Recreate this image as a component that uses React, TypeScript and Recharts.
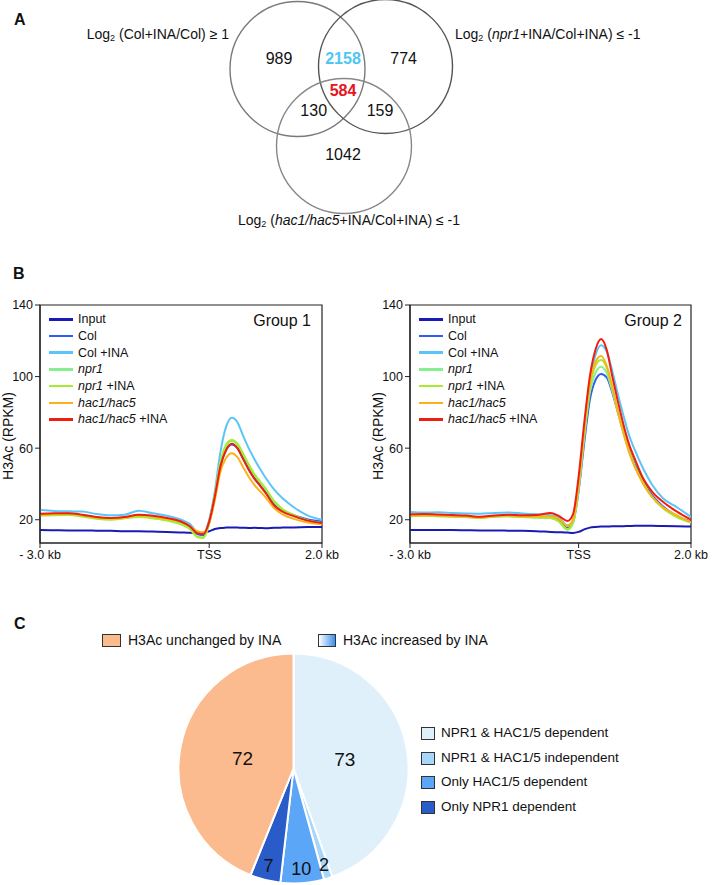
import React from 'react';
import {
  LineChart,
  Line,
  XAxis,
  YAxis,
  ReferenceArea,
  ScatterChart,
  Scatter,
  PieChart,
  Pie,
  Cell,
} from 'recharts';

// ---------- Panel A: Venn counts ----------
const vennRegions = ['Col+INA only', 'Col+INA & npr1', 'npr1 only', 'all three', 'Col+INA & hac', 'npr1 & hac', 'hac only'];
const vennCounts = [989, 2158, 774, 584, 130, 159, 1042];

// ---------- Panel B: H3Ac profiles (RPKM) ----------
const positionsKb = [-3, -2.75, -2.5, -2.25, -2, -1.75, -1.5, -1.25, -1, -0.75, -0.5, -0.35, -0.2, -0.1, 0, 0.1, 0.2, 0.3, 0.4, 0.5, 0.6, 0.7, 0.8, 0.9, 1.0, 1.15, 1.3, 1.5, 1.75, 2.0];
const seriesNames = ['Input', 'Col', 'Col +INA', 'npr1', 'npr1 +INA', 'hac1/hac5', 'hac1/hac5 +INA'];

const g1Input = [14.2, 14.1, 14.0, 14.0, 13.9, 13.8, 13.6, 13.6, 13.4, 13.2, 12.9, 12.7, 12.6, 12.9, 13.6, 14.8, 15.4, 15.6, 15.7, 15.6, 15.5, 15.4, 15.5, 15.4, 15.3, 15.5, 15.6, 15.7, 15.9, 16.0];
const g1Col = [23.0, 23.2, 23.3, 22.6, 21.3, 20.6, 21.2, 22.3, 21.6, 20.3, 18.2, 15.8, 11.8, 11.3, 18.5, 33, 50, 59, 62, 60, 54.5, 48.5, 43.5, 39.5, 35.5, 29, 25.5, 22.5, 20.2, 19.0];
const g1ColIna = [25.6, 24.9, 24.7, 24.6, 23.2, 22.5, 22.8, 25.0, 23.6, 22.2, 20.0, 17.8, 13.0, 12.5, 20, 36, 58, 72, 77, 74.5, 67, 60, 54, 48.5, 43.5, 37, 32, 27, 22.3, 20.0];
const g1Npr1 = [22.5, 22.6, 22.8, 22.0, 20.8, 20.3, 21.0, 21.8, 21.0, 19.8, 17.8, 15.2, 10.5, 10.2, 18, 34, 52, 61, 64, 62, 56.5, 50.5, 45, 41, 37, 30, 25.5, 22.2, 19.5, 18.2];
const g1Npr1Ina = [22.3, 22.5, 22.6, 21.8, 20.5, 20.0, 20.8, 21.5, 20.8, 19.5, 17.5, 15.0, 10.2, 9.8, 18, 34, 52, 62, 64.5, 62.5, 57, 51, 45.5, 41.5, 37.5, 30.5, 26, 22.5, 19.6, 18.0];
const g1Hac = [22.8, 23.2, 23.3, 22.5, 21.2, 20.8, 21.3, 22.5, 21.8, 20.5, 18.8, 16.5, 13.5, 13.0, 18, 31, 47, 54.5, 57.2, 55, 49.5, 44, 39.5, 36, 32.5, 26.5, 23, 20.5, 18.5, 17.5];
const g1HacIna = [23.3, 23.6, 23.6, 22.8, 21.5, 21.0, 21.5, 22.8, 22.2, 21.0, 19.0, 16.5, 12.3, 12.0, 19, 33, 50, 59, 62.5, 60, 54, 48, 43, 39, 35, 28, 24.5, 22, 19.5, 18.2];

const g2Input = [14.3, 14.3, 14.2, 14.2, 14.1, 14.0, 14.0, 13.9, 13.8, 13.6, 13.2, 13.0, 12.8, 12.6, 13.2, 14.6, 15.6, 16.0, 16.2, 16.2, 16.3, 16.3, 16.4, 16.5, 16.6, 16.6, 16.6, 16.5, 16.4, 16.2];
const g2Col = [22.2, 22.4, 22.2, 22.0, 21.7, 21.2, 22.0, 22.2, 21.7, 21.5, 21.3, 19.5, 15.5, 18.5, 36, 63, 87, 98, 101.5, 99.5, 91, 80, 69, 59, 51, 41.5, 34, 27.5, 22, 19];
const g2ColIna = [24.3, 24.0, 24.2, 23.8, 23.5, 23.3, 23.8, 24.0, 23.5, 23.0, 22.5, 21.0, 16.8, 19.5, 40, 70, 97, 112, 117.5, 114, 103, 90, 78, 67, 59, 48.5, 40, 32, 27, 21.5];
const g2Npr1 = [22.0, 22.2, 22.0, 21.8, 21.5, 21.0, 21.8, 22.0, 21.5, 21.3, 21.0, 19.0, 14.4, 18, 37, 66, 91, 102, 105.5, 102, 92, 80, 68.5, 58, 50, 40.5, 33, 26.5, 21.5, 18.5];
const g2Npr1Ina = [22.0, 22.2, 22.0, 21.8, 21.5, 21.0, 21.8, 22.0, 21.5, 21.3, 21.0, 19.0, 14.8, 18.5, 38, 68, 94, 106, 109.3, 105, 94, 81, 69, 58.5, 50, 40.5, 33, 26.5, 21.5, 18.5];
const g2Hac = [22.3, 22.5, 22.3, 22.0, 21.8, 21.3, 22.0, 22.3, 21.8, 21.8, 22.0, 20.5, 16.5, 20, 40, 70, 96, 108, 111.5, 106, 94, 80, 68, 57.5, 49.5, 40, 33, 27, 22.5, 18.5];
const g2HacIna = [23.0, 23.2, 22.9, 22.6, 22.3, 21.6, 22.4, 22.8, 22.5, 22.6, 23.8, 22.0, 19.3, 23, 44, 74, 100, 115, 121, 115, 100, 86, 73, 62, 54, 43, 36, 30, 24.5, 20];

const yTicks = [20, 60, 100, 140];
const xTicks = [-3, 0, 2];
const xTickLabels = ['- 3.0 kb', 'TSS', '2.0 kb'];

// ---------- Panel C: pie ----------
const pieNames = ['NPR1 & HAC1/5 dependent', 'NPR1 & HAC1/5 independent', 'Only HAC1/5 dependent', 'Only NPR1 dependent', 'H3Ac unchanged by INA'];
const pieValues = [73, 2, 10, 7, 72];

// styles
const seriesColors = ['#1a1ab4', '#2f5cf2', '#5cc5f7', '#86f08e', '#a5ec30', '#fbb21a', '#f01e10'];
const pieColors = ['#dff0fb', '#a7d6fb', '#5ba6f7', '#2a5cc9', '#fcbb8f'];
const vennCircles = [
  { x: 297.5, y: 69, r: 67.5, stroke: '#7a7a7a' },
  { x: 385.5, y: 66.5, r: 67, stroke: '#555' },
  { x: 344, y: 146, r: 67.5, stroke: '#888' },
];
const vennTextPos = [
  { x: 279, y: 58 }, { x: 343, y: 58 }, { x: 403.6, y: 58 }, { x: 343, y: 90.7 },
  { x: 313.7, y: 110 }, { x: 380, y: 110 }, { x: 343, y: 154 },
];
const vennHighlight: Record<number, string> = { 2158: '#4fc6f2', 584: '#e8141c' };

const FONT = '"Liberation Sans", Arial, Helvetica, sans-serif';

const buildRows = (cols: number[][]) =>
  positionsKb.map((kb, i) => {
    const row: any = { kb };
    seriesNames.forEach((n, j) => (row[n] = cols[j][i]));
    return row;
  });

const group1 = buildRows([g1Input, g1Col, g1ColIna, g1Npr1, g1Npr1Ina, g1Hac, g1HacIna]);
const group2 = buildRows([g2Input, g2Col, g2ColIna, g2Npr1, g2Npr1Ina, g2Hac, g2HacIna]);

const seriesLabel = (n: string) => {
  if (n.startsWith('npr1') || n.startsWith('hac1')) {
    const [geno, rest] = n.split(' +');
    return (
      <>
        <i>{geno}</i>
        {rest ? ` +${rest}` : ''}
      </>
    );
  }
  return n;
};

const renderYTitle = (props: any) => {
  const vb = props.viewBox || { x: 0, y: 0, width: 0, height: 0 };
  const x = vb.x - 2;
  const y = vb.y + vb.height / 2 + 12;
  return (
    <text x={x} y={y} transform={`rotate(-90, ${x}, ${y})`} textAnchor="middle" dominantBaseline="central" fontSize={14} fill="#111">
      H3Ac (RPKM)
    </text>
  );
};

const ProfileChart = ({ data, left, title }: { data: any[]; left: number; title: string }) => (
  <div style={{ position: 'absolute', left, top: 290 }}>
    <LineChart width={left === 0 ? 357 : 344} height={288} data={data} margin={{ top: 15, right: left === 0 ? 35 : 23, bottom: 5, left: 10 }}>
      <XAxis
        dataKey="kb"
        type="number"
        domain={[-3, 2]}
        ticks={xTicks}
        tickFormatter={(v: number) => xTickLabels[xTicks.indexOf(v)]}
        height={30}
        tickSize={5}
        axisLine={{ stroke: '#222', strokeWidth: 1.2 }}
        tickLine={{ stroke: '#222' }}
        tick={{ fontSize: 12.5, fill: '#111' }}
        allowDataOverflow
      />
      <YAxis
        type="number"
        domain={[7, 140]}
        ticks={yTicks}
        width={30}
        tickSize={5}
        axisLine={{ stroke: '#222', strokeWidth: 1.2 }}
        tickLine={{ stroke: '#222' }}
        tick={{ fontSize: 12.5, fill: '#111' }}
        label={renderYTitle}
        allowDataOverflow
      />
      <ReferenceArea x1={-3} x2={2} y1={7} y2={140} fill="none" stroke="#222" strokeWidth={1.2} />
      {seriesNames.map((n, i) => (
        <Line
          key={n}
          dataKey={n}
          type="monotone"
          stroke={seriesColors[i]}
          strokeWidth={2}
          dot={false}
          isAnimationActive={false}
        />
      ))}
    </LineChart>
    <div style={{ position: 'absolute', left: 49, top: 21 }}>
      {seriesNames.map((n, i) => (
        <div key={n} style={{ display: 'flex', alignItems: 'center', height: 16.7 }}>
          <div style={{ width: 24, height: 2.5, background: seriesColors[i] }} />
          <span style={{ marginLeft: 5, fontSize: 12.5, whiteSpace: 'nowrap' }}>{seriesLabel(n)}</span>
        </div>
      ))}
    </div>
    <div style={{ position: 'absolute', right: left === 0 ? 46 : 32, top: 22, fontSize: 16, lineHeight: '18px' }}>{title}</div>
  </div>
);

const CircleShape = (props: any) => {
  const { cx, cy, payload } = props;
  return <circle cx={cx} cy={cy} r={payload.r} fill="none" stroke={payload.stroke} strokeWidth={1.4} />;
};

const CountShape = (props: any) => {
  const { cx, cy, payload } = props;
  const color = vennHighlight[payload.value];
  return (
    <text x={cx} y={cy} textAnchor="middle" dominantBaseline="central" fontSize={16} fontWeight={color ? 700 : 400} fill={color || '#111'}>
      {payload.value}
    </text>
  );
};

const vennCountData = vennCounts.map((v, i) => ({ ...vennTextPos[i], value: v, region: vennRegions[i] }));

const renderPieLabel = (props: any) => {
  const { cx, cy, midAngle, value } = props;
  const RAD = Math.PI / 180;
  const r = value > 50 ? 52 : 101;
  const x = cx + r * Math.cos(-midAngle * RAD);
  const y = cy + r * Math.sin(-midAngle * RAD);
  return (
    <text x={x} y={y} textAnchor="middle" dominantBaseline="central" fontSize={value > 50 ? 19 : 18} fill="#111">
      {value}
    </text>
  );
};

const Log2 = ({ children }: { children: React.ReactNode }) => (
  <span>
    Log<span style={{ fontSize: 9, position: 'relative', top: 2 }}>2</span> {children}
  </span>
);

const panelLetter = { position: 'absolute' as const, fontSize: 16, fontWeight: 700, lineHeight: '18px' };

export default function App() {
  return (
    <div style={{ position: 'absolute', left: 0, top: 0, width: 714, height: 885, background: '#fff', fontFamily: FONT, color: '#111', overflow: 'hidden' }}>
      <div style={{ ...panelLetter, left: 14, top: 11 }}>A</div>
      <div style={{ ...panelLetter, left: 13, top: 265 }}>B</div>
      <div style={{ ...panelLetter, left: 14, top: 615 }}>C</div>

      {/* Panel A */}
      <div style={{ position: 'absolute', left: 0, top: 0 }}>
        <ScatterChart width={714} height={240} margin={{ top: 0, right: 0, bottom: 0, left: 0 }}>
          <XAxis type="number" dataKey="x" domain={[0, 714]} hide allowDataOverflow />
          <YAxis type="number" dataKey="y" domain={[0, 240]} reversed hide allowDataOverflow />
          <Scatter data={vennCircles} shape={CircleShape} isAnimationActive={false} />
          <Scatter data={vennCountData} shape={CountShape} isAnimationActive={false} />
        </ScatterChart>
      </div>
      <div style={{ position: 'absolute', right: 714 - 229, top: 25, fontSize: 14, lineHeight: '18px', whiteSpace: 'nowrap' }}>
        <Log2>(Col+INA/Col) ≥ 1</Log2>
      </div>
      <div style={{ position: 'absolute', left: 455, top: 25, fontSize: 14, lineHeight: '18px', whiteSpace: 'nowrap' }}>
        <Log2>
          (<i>npr1</i>+INA/Col+INA) ≤ -1
        </Log2>
      </div>
      <div style={{ position: 'absolute', left: 238, top: 211, fontSize: 14, lineHeight: '18px', whiteSpace: 'nowrap' }}>
        <Log2>
          (<i>hac1/hac5</i>+INA/Col+INA) ≤ -1
        </Log2>
      </div>

      {/* Panel B */}
      <ProfileChart data={group1} left={0} title="Group 1" />
      <ProfileChart data={group2} left={370} title="Group 2" />

      {/* Panel C */}
      <div style={{ position: 'absolute', left: 0, top: 600 }}>
        <PieChart width={714} height={285} margin={{ top: 0, right: 0, bottom: 0, left: 0 }}>
          <Pie
            data={pieValues.map((v, i) => ({ name: pieNames[i], value: v }))}
            dataKey="value"
            cx={293.5}
            cy={168.5}
            outerRadius={115}
            startAngle={90}
            endAngle={-270}
            stroke="#fff"
            strokeWidth={2}
            label={renderPieLabel}
            labelLine={false}
            isAnimationActive={false}
          >
            {pieValues.map((_, i) => (
              <Cell key={i} fill={pieColors[i]} />
            ))}
          </Pie>
        </PieChart>
      </div>
      <div style={{ position: 'absolute', left: 102, top: 634, width: 17, height: 11, background: pieColors[4], border: '1.2px solid #333' }} />
      <div style={{ position: 'absolute', left: 128, top: 631, fontSize: 14, lineHeight: '18px', whiteSpace: 'nowrap' }}>{pieNames[4]}</div>
      <div style={{ position: 'absolute', left: 318, top: 634, width: 16, height: 11, background: 'linear-gradient(to right, #ffffff, #3d8ff0)', border: '1.2px solid #333' }} />
      <div style={{ position: 'absolute', left: 343, top: 631, fontSize: 14, lineHeight: '18px', whiteSpace: 'nowrap' }}>H3Ac increased by INA</div>
      {pieNames.slice(0, 4).map((n, i) => (
        <React.Fragment key={n}>
          <div style={{ position: 'absolute', left: 421, top: 727 + i * 24.7, width: 12, height: 11, background: pieColors[i], border: '1.2px solid #333' }} />
          <div style={{ position: 'absolute', left: 441, top: 724 + i * 24.7, fontSize: 13.5, lineHeight: '18px', whiteSpace: 'nowrap' }}>{n}</div>
        </React.Fragment>
      ))}
    </div>
  );
}
